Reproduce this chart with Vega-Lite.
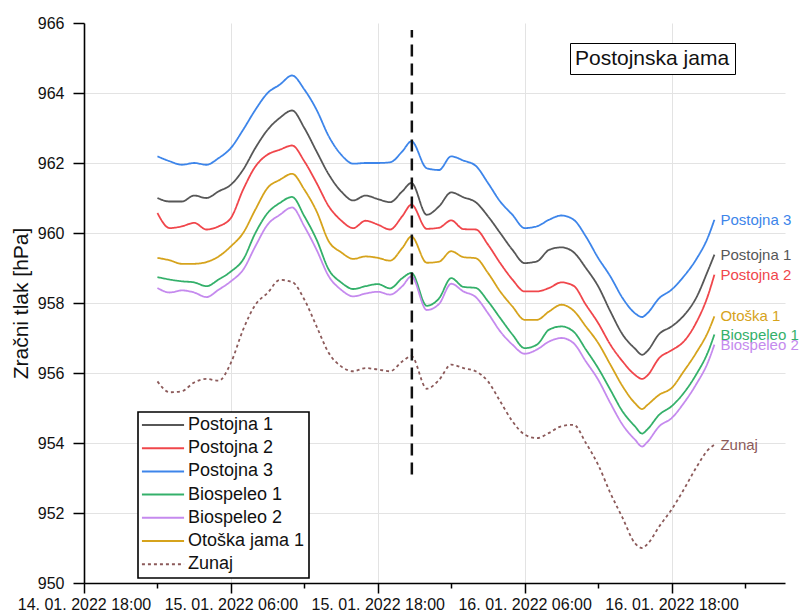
{
  "$schema": "https://vega.github.io/schema/vega-lite/v6.json",
  "width": 701,
  "height": 560,
  "autosize": {"type": "none"},
  "padding": {"left": 84, "top": 23, "right": 23, "bottom": 33},
  "background": "white",
  "config": {
    "font": "Liberation Sans",
    "view": {"stroke": null},
    "axis": {
      "domainColor": "black",
      "domainWidth": 1.6,
      "tickColor": "black",
      "tickWidth": 1.5,
      "gridColor": "#e3e3e3",
      "gridWidth": 1,
      "labelColor": "#111111",
      "labelFontSize": 16,
      "titleColor": "#111111",
      "titleFontWeight": "normal"
    }
  },
  "datasets": {
    "p": [
      {"t":"2022-01-15T00:00","Postojna 1":961.0,"Postojna 2":960.57,"Postojna 3":962.19,"Biospeleo 1":958.74,"Biospeleo 2":958.43,"Otoška jama 1":959.29,"Zunaj":955.76},
      {"t":"2022-01-15T01:00","Postojna 1":960.9,"Postojna 2":960.14,"Postojna 3":962.05,"Biospeleo 1":958.67,"Biospeleo 2":958.3,"Otoška jama 1":959.22,"Zunaj":955.45},
      {"t":"2022-01-15T02:00","Postojna 1":960.9,"Postojna 2":960.19,"Postojna 3":961.95,"Biospeleo 1":958.62,"Biospeleo 2":958.36,"Otoška jama 1":959.12,"Zunaj":955.48},
      {"t":"2022-01-15T03:00","Postojna 1":961.07,"Postojna 2":960.29,"Postojna 3":962.0,"Biospeleo 1":958.59,"Biospeleo 2":958.3,"Otoška jama 1":959.12,"Zunaj":955.73},
      {"t":"2022-01-15T04:00","Postojna 1":961.0,"Postojna 2":960.1,"Postojna 3":961.95,"Biospeleo 1":958.48,"Biospeleo 2":958.17,"Otoška jama 1":959.17,"Zunaj":955.83},
      {"t":"2022-01-15T05:00","Postojna 1":961.19,"Postojna 2":960.19,"Postojna 3":962.14,"Biospeleo 1":958.67,"Biospeleo 2":958.38,"Otoška jama 1":959.33,"Zunaj":955.78},
      {"t":"2022-01-15T06:00","Postojna 1":961.38,"Postojna 2":960.43,"Postojna 3":962.43,"Biospeleo 1":958.9,"Biospeleo 2":958.62,"Otoška jama 1":959.62,"Zunaj":956.29},
      {"t":"2022-01-15T07:00","Postojna 1":961.81,"Postojna 2":961.24,"Postojna 3":962.95,"Biospeleo 1":959.24,"Biospeleo 2":958.95,"Otoška jama 1":960.0,"Zunaj":957.24},
      {"t":"2022-01-15T08:00","Postojna 1":962.43,"Postojna 2":961.9,"Postojna 3":963.52,"Biospeleo 1":960.0,"Biospeleo 2":959.62,"Otoška jama 1":960.67,"Zunaj":957.95},
      {"t":"2022-01-15T09:00","Postojna 1":962.95,"Postojna 2":962.24,"Postojna 3":964.0,"Biospeleo 1":960.57,"Biospeleo 2":960.24,"Otoška jama 1":961.29,"Zunaj":958.29},
      {"t":"2022-01-15T10:00","Postojna 1":963.29,"Postojna 2":962.38,"Postojna 3":964.24,"Biospeleo 1":960.86,"Biospeleo 2":960.52,"Otoška jama 1":961.52,"Zunaj":958.66},
      {"t":"2022-01-15T11:00","Postojna 1":963.5,"Postojna 2":962.5,"Postojna 3":964.5,"Biospeleo 1":961.03,"Biospeleo 2":960.73,"Otoška jama 1":961.69,"Zunaj":958.6},
      {"t":"2022-01-15T12:00","Postojna 1":963.0,"Postojna 2":962.05,"Postojna 3":964.1,"Biospeleo 1":960.48,"Biospeleo 2":960.19,"Otoška jama 1":961.24,"Zunaj":958.1},
      {"t":"2022-01-15T13:00","Postojna 1":962.33,"Postojna 2":961.43,"Postojna 3":963.52,"Biospeleo 1":959.81,"Biospeleo 2":959.52,"Otoška jama 1":960.62,"Zunaj":957.33},
      {"t":"2022-01-15T14:00","Postojna 1":961.67,"Postojna 2":960.76,"Postojna 3":962.76,"Biospeleo 1":958.95,"Biospeleo 2":958.76,"Otoška jama 1":959.76,"Zunaj":956.57},
      {"t":"2022-01-15T15:00","Postojna 1":961.19,"Postojna 2":960.36,"Postojna 3":962.24,"Biospeleo 1":958.59,"Biospeleo 2":958.38,"Otoška jama 1":959.45,"Zunaj":956.19},
      {"t":"2022-01-15T16:00","Postojna 1":960.93,"Postojna 2":960.14,"Postojna 3":961.98,"Biospeleo 1":958.4,"Biospeleo 2":958.19,"Otoška jama 1":959.26,"Zunaj":956.05},
      {"t":"2022-01-15T17:00","Postojna 1":961.07,"Postojna 2":960.35,"Postojna 3":962.0,"Biospeleo 1":958.48,"Biospeleo 2":958.27,"Otoška jama 1":959.33,"Zunaj":956.14},
      {"t":"2022-01-15T18:00","Postojna 1":960.97,"Postojna 2":960.24,"Postojna 3":962.0,"Biospeleo 1":958.54,"Biospeleo 2":958.32,"Otoška jama 1":959.29,"Zunaj":956.1},
      {"t":"2022-01-15T19:00","Postojna 1":960.88,"Postojna 2":960.1,"Postojna 3":962.02,"Biospeleo 1":958.42,"Biospeleo 2":958.24,"Otoška jama 1":959.21,"Zunaj":956.05},
      {"t":"2022-01-15T20:00","Postojna 1":961.19,"Postojna 2":960.48,"Postojna 3":962.33,"Biospeleo 1":958.71,"Biospeleo 2":958.48,"Otoška jama 1":959.57,"Zunaj":956.33},
      {"t":"2022-01-15T20:45","Postojna 1":961.43,"Postojna 2":960.81,"Postojna 3":962.62,"Biospeleo 1":958.86,"Biospeleo 2":958.76,"Otoška jama 1":959.9,"Zunaj":956.48},
      {"t":"2022-01-15T22:00","Postojna 1":960.52,"Postojna 2":960.12,"Postojna 3":961.85,"Biospeleo 1":957.92,"Biospeleo 2":957.8,"Otoška jama 1":959.15,"Zunaj":955.55},
      {"t":"2022-01-15T23:00","Postojna 1":960.76,"Postojna 2":960.15,"Postojna 3":961.8,"Biospeleo 1":958.13,"Biospeleo 2":957.97,"Otoška jama 1":959.18,"Zunaj":955.8},
      {"t":"2022-01-16T00:00","Postojna 1":961.16,"Postojna 2":960.36,"Postojna 3":962.19,"Biospeleo 1":958.71,"Biospeleo 2":958.55,"Otoška jama 1":959.48,"Zunaj":956.24},
      {"t":"2022-01-16T01:00","Postojna 1":961.02,"Postojna 2":960.11,"Postojna 3":962.07,"Biospeleo 1":958.46,"Biospeleo 2":958.33,"Otoška jama 1":959.31,"Zunaj":956.14},
      {"t":"2022-01-16T02:00","Postojna 1":960.88,"Postojna 2":960.1,"Postojna 3":961.92,"Biospeleo 1":958.43,"Biospeleo 2":958.17,"Otoška jama 1":959.28,"Zunaj":956.05},
      {"t":"2022-01-16T03:00","Postojna 1":960.48,"Postojna 2":959.67,"Postojna 3":961.43,"Biospeleo 1":958.05,"Biospeleo 2":957.71,"Otoška jama 1":958.86,"Zunaj":955.76},
      {"t":"2022-01-16T04:00","Postojna 1":960.0,"Postojna 2":959.14,"Postojna 3":960.9,"Biospeleo 1":957.57,"Biospeleo 2":957.19,"Otoška jama 1":958.33,"Zunaj":955.19},
      {"t":"2022-01-16T05:00","Postojna 1":959.52,"Postojna 2":958.67,"Postojna 3":960.52,"Biospeleo 1":957.1,"Biospeleo 2":956.81,"Otoška jama 1":957.9,"Zunaj":954.62},
      {"t":"2022-01-16T06:00","Postojna 1":959.14,"Postojna 2":958.33,"Postojna 3":960.14,"Biospeleo 1":956.71,"Biospeleo 2":956.55,"Otoška jama 1":957.52,"Zunaj":954.24},
      {"t":"2022-01-16T07:00","Postojna 1":959.19,"Postojna 2":958.33,"Postojna 3":960.19,"Biospeleo 1":956.81,"Biospeleo 2":956.67,"Otoška jama 1":957.52,"Zunaj":954.14},
      {"t":"2022-01-16T08:00","Postojna 1":959.52,"Postojna 2":958.43,"Postojna 3":960.38,"Biospeleo 1":957.24,"Biospeleo 2":956.9,"Otoška jama 1":957.76,"Zunaj":954.29},
      {"t":"2022-01-16T09:00","Postojna 1":959.59,"Postojna 2":958.59,"Postojna 3":960.5,"Biospeleo 1":957.33,"Biospeleo 2":957.0,"Otoška jama 1":957.95,"Zunaj":954.48},
      {"t":"2022-01-16T10:00","Postojna 1":959.45,"Postojna 2":958.49,"Postojna 3":960.38,"Biospeleo 1":957.18,"Biospeleo 2":956.85,"Otoška jama 1":957.78,"Zunaj":954.52},
      {"t":"2022-01-16T11:00","Postojna 1":959.0,"Postojna 2":957.95,"Postojna 3":959.9,"Biospeleo 1":956.67,"Biospeleo 2":956.33,"Otoška jama 1":957.33,"Zunaj":954.0},
      {"t":"2022-01-16T12:00","Postojna 1":958.48,"Postojna 2":957.43,"Postojna 3":959.29,"Biospeleo 1":956.14,"Biospeleo 2":955.81,"Otoška jama 1":956.86,"Zunaj":953.38},
      {"t":"2022-01-16T13:00","Postojna 1":957.76,"Postojna 2":956.81,"Postojna 3":958.76,"Biospeleo 1":955.52,"Biospeleo 2":955.14,"Otoška jama 1":956.24,"Zunaj":952.57},
      {"t":"2022-01-16T14:00","Postojna 1":957.1,"Postojna 2":956.33,"Postojna 3":958.14,"Biospeleo 1":954.9,"Biospeleo 2":954.52,"Otoška jama 1":955.62,"Zunaj":951.86},
      {"t":"2022-01-16T15:00","Postojna 1":956.7,"Postojna 2":955.95,"Postojna 3":957.71,"Biospeleo 1":954.48,"Biospeleo 2":954.1,"Otoška jama 1":955.14,"Zunaj":951.14},
      {"t":"2022-01-16T15:36","Postojna 1":956.52,"Postojna 2":955.83,"Postojna 3":957.6,"Biospeleo 1":954.27,"Biospeleo 2":953.9,"Otoška jama 1":954.97,"Zunaj":951.0},
      {"t":"2022-01-16T16:00","Postojna 1":956.62,"Postojna 2":955.92,"Postojna 3":957.7,"Biospeleo 1":954.38,"Biospeleo 2":954.02,"Otoška jama 1":955.08,"Zunaj":951.1},
      {"t":"2022-01-16T17:00","Postojna 1":957.12,"Postojna 2":956.43,"Postojna 3":958.14,"Biospeleo 1":954.81,"Biospeleo 2":954.48,"Otoška jama 1":955.38,"Zunaj":951.62},
      {"t":"2022-01-16T18:00","Postojna 1":957.33,"Postojna 2":956.65,"Postojna 3":958.38,"Biospeleo 1":955.05,"Biospeleo 2":954.71,"Otoška jama 1":955.57,"Zunaj":952.1},
      {"t":"2022-01-16T19:00","Postojna 1":957.64,"Postojna 2":956.9,"Postojna 3":958.76,"Biospeleo 1":955.43,"Biospeleo 2":955.14,"Otoška jama 1":956.05,"Zunaj":952.67},
      {"t":"2022-01-16T20:00","Postojna 1":958.14,"Postojna 2":957.43,"Postojna 3":959.24,"Biospeleo 1":955.95,"Biospeleo 2":955.67,"Otoška jama 1":956.57,"Zunaj":953.29},
      {"t":"2022-01-16T21:00","Postojna 1":958.95,"Postojna 2":958.24,"Postojna 3":959.9,"Biospeleo 1":956.62,"Biospeleo 2":956.33,"Otoška jama 1":957.19,"Zunaj":953.81},
      {"t":"2022-01-16T21:30","Postojna 1":959.38,"Postojna 2":958.81,"Postojna 3":960.38,"Biospeleo 1":957.1,"Biospeleo 2":956.81,"Otoška jama 1":957.62,"Zunaj":953.95}
    ],
    "labels": [
      {"series": "Postojna 1", "label": "Postojna 1"},
      {"series": "Postojna 2", "label": "Postojna 2"},
      {"series": "Postojna 3", "label": "Postojna 3"},
      {"series": "Biospeleo 1", "label": "Biospeleo 1"},
      {"series": "Biospeleo 2", "label": "Biospeleo 2"},
      {"series": "Otoška jama 1", "label": "Otoška 1"},
      {"series": "Zunaj", "label": "Zunaj"}
    ],
    "marker": [
      {"t": "2022-01-15T20:47", "lo": 953.1, "hi": 965.8, "site": "Postojnska jama"}
    ]
  },
  "layer": [
    {
      "data": {"name": "p"},
      "transform": [
        {"fold": ["Postojna 1", "Postojna 2", "Postojna 3", "Biospeleo 1", "Biospeleo 2", "Otoška jama 1", "Zunaj"], "as": ["series", "value"]}
      ],
      "mark": {"type": "line", "interpolate": "monotone", "strokeWidth": 1.8},
      "encoding": {
        "x": {
          "field": "t", "type": "temporal", "title": null,
          "scale": {"domain": [{"year": 2022, "month": 1, "date": 14, "hours": 18}, {"year": 2022, "month": 1, "date": 17, "hours": 3, "minutes": 16}], "nice": false},
          "axis": {
            "values": [
              {"year": 2022, "month": 1, "date": 14, "hours": 18},
              {"year": 2022, "month": 1, "date": 15, "hours": 0},
              {"year": 2022, "month": 1, "date": 15, "hours": 6},
              {"year": 2022, "month": 1, "date": 15, "hours": 12},
              {"year": 2022, "month": 1, "date": 15, "hours": 18},
              {"year": 2022, "month": 1, "date": 16, "hours": 0},
              {"year": 2022, "month": 1, "date": 16, "hours": 6},
              {"year": 2022, "month": 1, "date": 16, "hours": 12},
              {"year": 2022, "month": 1, "date": 16, "hours": 18},
              {"year": 2022, "month": 1, "date": 17, "hours": 0}
            ],
            "labelExpr": "hours(datum.value) % 12 === 6 ? timeFormat(datum.value, '%d. %m. %Y %H:%M') : ''",
            "tickSize": {"condition": {"test": "hours(datum.value) % 12 === 6", "value": 10}, "value": 5},
            "grid": true,
            "gridOpacity": {"condition": {"test": "hours(datum.value) % 12 === 6", "value": 1}, "value": 0},
            "labelFlush": false,
            "labelOverlap": false,
            "labelBound": false,
            "labelPadding": 3
          }
        },
        "y": {
          "field": "value", "type": "quantitative", "title": "Zračni tlak [hPa]",
          "scale": {"domain": [950, 966], "nice": false, "zero": false},
          "axis": {
            "values": [950, 951, 952, 953, 954, 955, 956, 957, 958, 959, 960, 961, 962, 963, 964, 965, 966],
            "labelExpr": "datum.value % 2 === 0 ? datum.label : ''",
            "tickSize": {"condition": {"test": "datum.value % 2 !== 0", "value": 5}, "value": 11},
            "grid": true,
            "gridOpacity": {"condition": {"test": "datum.value % 2 !== 0 || datum.value === 966 || datum.value === 950", "value": 0}, "value": 1},
            "labelPadding": 9,
            "titleFontSize": 21,
            "titlePadding": 6
          }
        },
        "color": {
          "field": "series", "type": "nominal",
          "scale": {
            "domain": ["Postojna 1", "Postojna 2", "Postojna 3", "Biospeleo 1", "Biospeleo 2", "Otoška jama 1", "Zunaj"],
            "range": ["#575757", "#f0464b", "#3d85ea", "#34b06a", "#c58aee", "#d6a31c", "#8c5a5a"]
          },
          "legend": {
            "orient": "none", "legendX": 54, "legendY": 389, "direction": "vertical",
            "title": null, "symbolType": "M-5,0H5", "symbolSize": 71, "symbolStrokeWidth": 2,
            "symbolOffset": 12, "labelOffset": 16, "labelFontSize": 18, "labelColor": "#111111",
            "rowPadding": 5.2, "padding": 4, "strokeColor": "black", "fillColor": "white", "labelLimit": 300,
            "encode": {"legend": {"update": {"strokeWidth": {"value": 1.6}}}}
          }
        },
        "strokeDash": {
          "field": "series", "type": "nominal",
          "scale": {
            "domain": ["Postojna 1", "Postojna 2", "Postojna 3", "Biospeleo 1", "Biospeleo 2", "Otoška jama 1", "Zunaj"],
            "range": [[1, 0], [1, 0], [1, 0], [1, 0], [1, 0], [1, 0], [3, 3]]
          },
          "legend": {
            "orient": "none", "legendX": 54, "legendY": 389, "direction": "vertical",
            "title": null, "symbolType": "M-5,0H5", "symbolSize": 71, "symbolStrokeWidth": 2,
            "symbolOffset": 12, "labelOffset": 16, "labelFontSize": 18, "labelColor": "#111111",
            "rowPadding": 5.2, "padding": 4, "strokeColor": "black", "fillColor": "white", "labelLimit": 300,
            "encode": {"legend": {"update": {"strokeWidth": {"value": 1.6}}}}
          }
        }
      }
    },
    {
      "data": {"name": "p"},
      "transform": [
        {"fold": ["Postojna 1", "Postojna 2", "Postojna 3", "Biospeleo 1", "Biospeleo 2", "Otoška jama 1", "Zunaj"], "as": ["series", "value"]},
        {"filter": {"field": "t", "equal": {"year": 2022, "month": 1, "date": 16, "hours": 21, "minutes": 30}}},
        {"lookup": "series", "from": {"data": {"name": "labels"}, "key": "series", "fields": ["label"]}}
      ],
      "mark": {"type": "text", "align": "left", "baseline": "middle", "dx": 6, "fontSize": 15},
      "encoding": {
        "x": {"field": "t", "type": "temporal", "title": null},
        "y": {"field": "value", "type": "quantitative", "title": "Zračni tlak [hPa]"},
        "text": {"field": "label"},
        "color": {"field": "series", "type": "nominal"}
      }
    },
    {
      "data": {"name": "marker"},
      "mark": {"type": "rule", "strokeDash": [12, 7], "strokeWidth": 2.5, "color": "#111111"},
      "encoding": {
        "x": {"field": "t", "type": "temporal", "title": null},
        "y": {"field": "lo", "type": "quantitative", "title": "Zračni tlak [hPa]"},
        "y2": {"field": "hi"},
        "opacity": {
          "field": "site", "type": "ordinal",
          "scale": {"range": [1, 1]},
          "legend": {
            "orient": "none", "legendX": 486, "legendY": 20, "title": null,
            "symbolOpacity": 0, "symbolSize": 0, "symbolStrokeWidth": 0,
            "labelFontSize": 21, "labelOffset": -21, "labelColor": "#111111", "labelLimit": 400,
            "padding": 5, "strokeColor": "black", "fillColor": "white",
            "encode": {"legend": {"update": {"strokeWidth": {"value": 1.8}}}}
          }
        }
      }
    }
  ]
}
